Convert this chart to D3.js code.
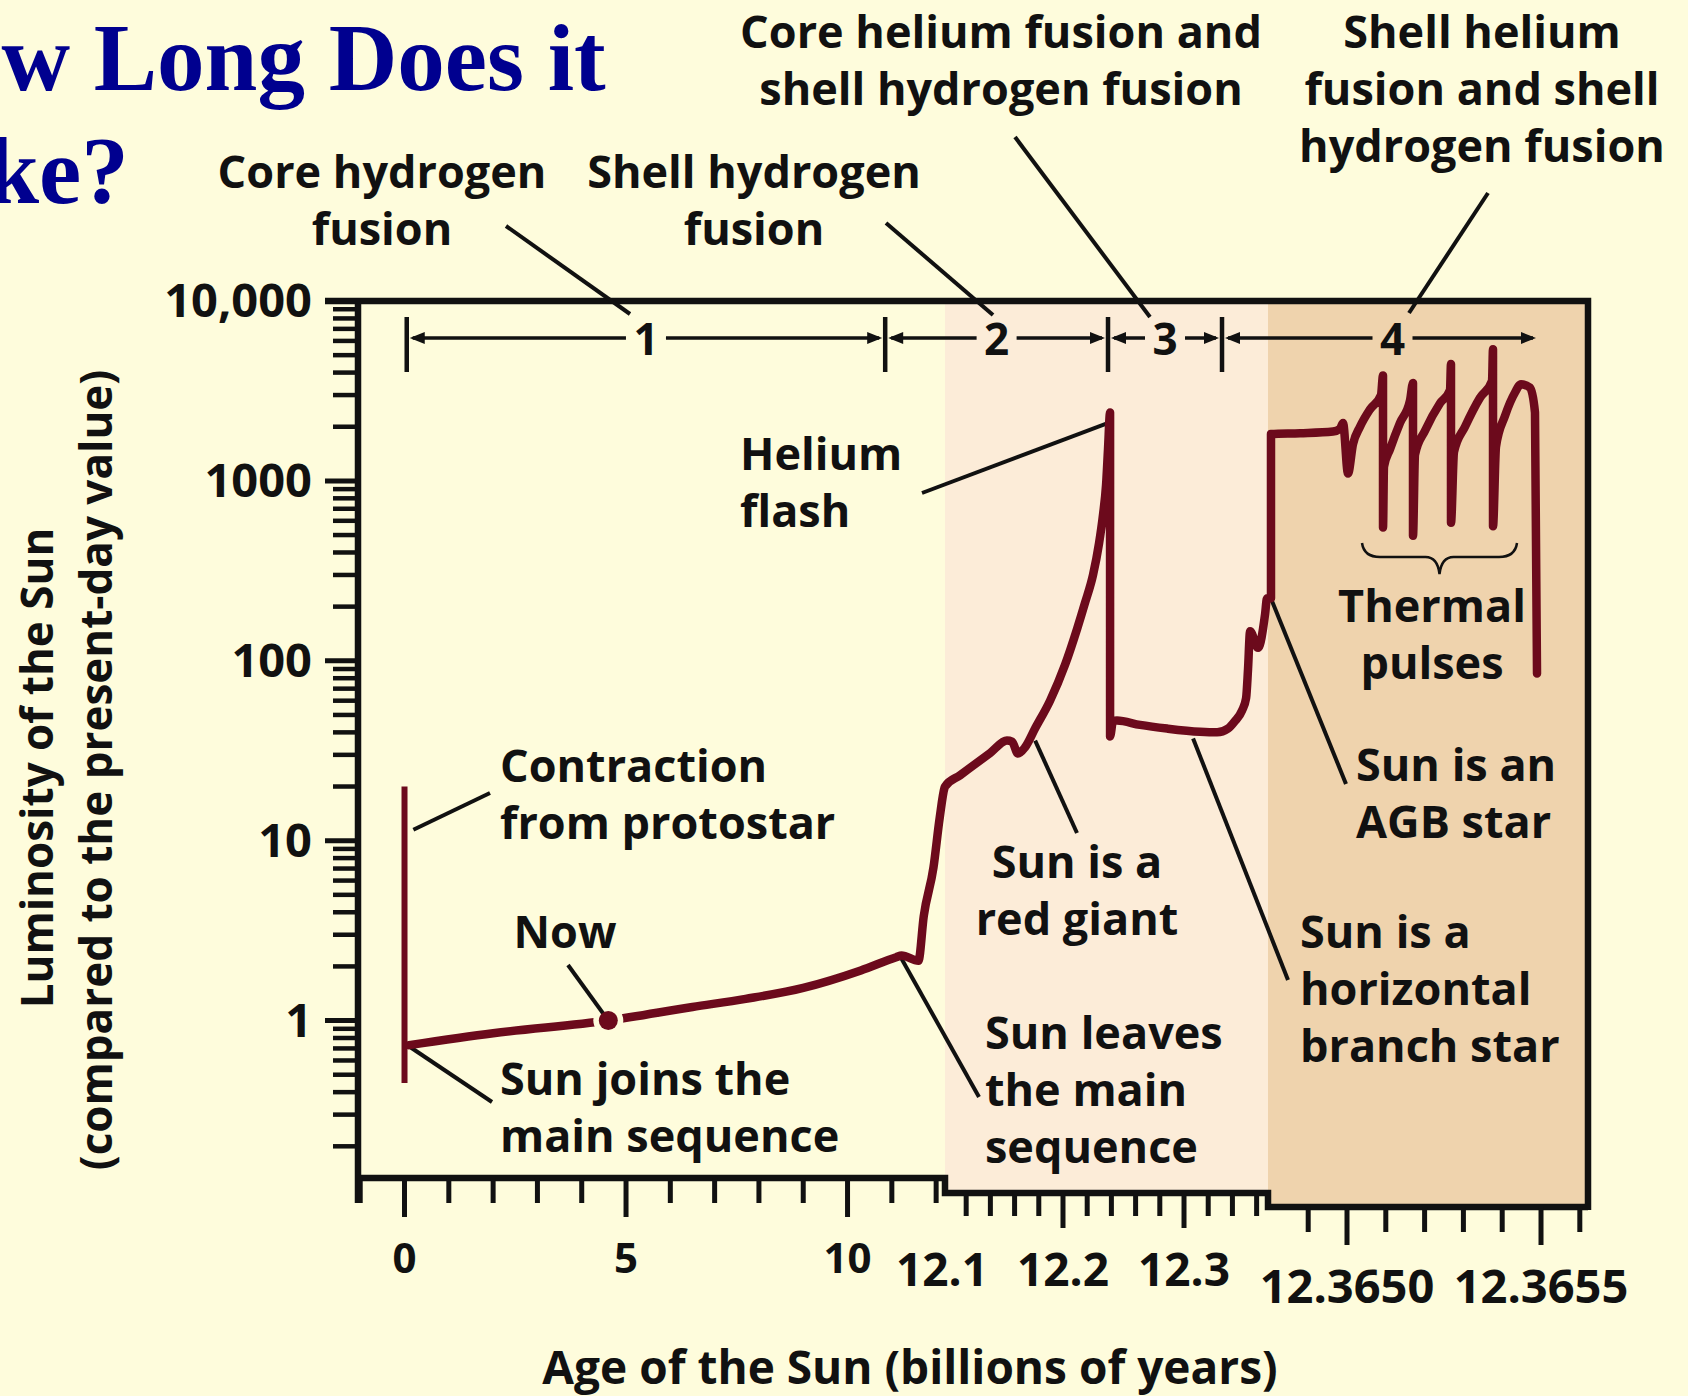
<!DOCTYPE html>
<html>
<head>
<meta charset="utf-8">
<script src="https://cdn.jsdelivr.net/npm/d3@7"></script>
<style>
  body { margin: 0; background: #fefcdc; }
  svg { display: block; }
  .lbl { font-family: 'Open Sans', sans-serif; font-weight: 700; fill: #111; }
</style>
</head>
<body>
<svg id="chart" width="1688" height="1396"></svg>
<script>

// ---------------------------------------------------------------
// DATA
// ---------------------------------------------------------------

// luminosity axis
var yTickValues = [1, 10, 100, 1000, 10000];
var yTickLabels = ['1', '10', '100', '1000', '10,000'];

// three broken age axes (billions of years)
var xTicksA = [-1, 0, 1, 2, 3, 4, 5, 6, 7, 8, 9, 10, 11, 12];
var xMajorA = [0, 5, 10];
var xLabelsA = ['0', '5', '10'];

var xTicksB = [12.12, 12.14, 12.16, 12.18, 12.2, 12.22, 12.24, 12.26, 12.28, 12.3, 12.32, 12.34, 12.36];
var xMajorB = [12.2, 12.3];
var xLabelValuesB = [12.1, 12.2, 12.3];
var xLabelsB = ['12.1', '12.2', '12.3'];

var xTicksC = [12.3649, 12.3650, 12.3651, 12.3652, 12.3653, 12.3654, 12.3655, 12.3656];
var xMajorC = [12.3650, 12.3655];
var xLabelsC = ['12.3650', '12.3655'];

// contraction from protostar
var contractionAge = [0, 0];
var contractionLum = [20, 0.45];

// panel A : main sequence and leaving it
var ageA = [0.1, 2, 4.6, 6.5, 7.7, 9, 10.3, 11.1, 11.22, 11.6, 11.72, 11.94, 12.08, 12.19];
var lumA = [0.73, 0.85, 1.0, 1.19, 1.32, 1.52, 1.9, 2.25, 2.3, 2.15, 3.8, 7.1, 13.4, 19.7];

// panel B : red giant, helium flash, horizontal branch
var ageB = [12.1025, 12.115, 12.14, 12.1537, 12.1579, 12.1628, 12.1686, 12.1769, 12.1893, 12.2017,
            12.2116, 12.2182, 12.2248, 12.2298, 12.2331, 12.2356, 12.2372, 12.2389, 12.2389, 12.2413,
            12.2446, 12.2637, 12.2860, 12.3132, 12.3273, 12.3364, 12.3419, 12.3480, 12.3513, 12.3529,
            12.3546, 12.3612, 12.3670, 12.3686];
var lumB = [20, 23.1, 30.8, 36, 35.5, 30.5, 33, 42, 60, 95,
            150, 210, 300, 450, 650, 950, 1500, 2400, 38, 46,
            46.5, 44, 42, 40.3, 40, 42, 46, 53, 62, 90,
            146, 118, 182, 223];

// panel C : AGB star and thermal pulses
var ageC = [12.3648041, 12.3648041, 12.3648789, 12.3649639, 12.3649820, 12.3649897, 12.3650026, 12.3650155,
            12.3650335, 12.3650593, 12.3650876, 12.3650928, 12.3650928, 12.3650954, 12.3651108, 12.3651366,
            12.3651624, 12.3651701, 12.3651701, 12.3651753, 12.3652010, 12.3652397, 12.3652655, 12.3652680,
            12.3652680, 12.3652758, 12.3653041, 12.3653428, 12.3653737, 12.3653763, 12.3653763, 12.3653840,
            12.3654072, 12.3654330, 12.3654485, 12.3654716, 12.3654845, 12.3654897];
var lumC = [223, 1820, 1840, 1880, 1950, 2100, 1100, 1600,
            2000, 2500, 3000, 3850, 550, 1200, 1500, 2100,
            2800, 3500, 495, 1400, 1900, 2700, 3200, 4470,
            585, 1450, 2000, 2900, 3600, 5400, 560, 1550,
            2300, 3100, 3450, 3300, 2400, 85];

// "Now"
var nowAge = 4.6;
var nowLum = 1.0;

// phases of fusion
var phasePanel = ['A', 'A', 'B', 'B', 'C'];
var phaseAge = [0.05, 10.85, 12.2372, 12.3314, 12.3654948];
var phaseLabels = ['1', '2', '3', '4'];

// thermal pulse ages (for the brace)
var pulseAges = [12.3650928, 12.3653763];

// ---------------------------------------------------------------
// SCALES
// ---------------------------------------------------------------

var svg = d3.select('#chart');
var INK = '#111';
var CURVE = '#6c0a1c';
var FONT = 45;

var plotTop = 301;
var bottomA = 1178, bottomB = 1193, bottomC = 1207;

var y = d3.scaleLog().domain([0.1333, 10000]).range([bottomA, plotTop]);
var xA = d3.scaleLinear().domain([-1.05, 12.2]).range([358, 945]);
var xB = d3.scaleLinear().domain([12.1025, 12.3694]).range([945, 1268]);
var xC = d3.scaleLinear().domain([12.3647964, 12.3656211]).range([1268, 1588]);

var xOf = { A: xA, B: xB, C: xC };

// ---------------------------------------------------------------
// PANEL BACKGROUNDS
// ---------------------------------------------------------------

svg.append('rect')
    .attr('x', xB.range()[0]).attr('y', plotTop)
    .attr('width', xB.range()[1] - xB.range()[0]).attr('height', bottomB - plotTop)
    .style('fill', '#fcecd8');

svg.append('rect')
    .attr('x', xC.range()[0]).attr('y', plotTop)
    .attr('width', xC.range()[1] - xC.range()[0]).attr('height', bottomC - plotTop)
    .style('fill', '#efd3ad');

// ---------------------------------------------------------------
// FRAME + TICKS
// ---------------------------------------------------------------

var frame = d3.path();
frame.moveTo(325, plotTop);
frame.lineTo(xC.range()[1], plotTop);
frame.lineTo(xC.range()[1], bottomC + 3);
frame.moveTo(xC.range()[1], bottomC);
frame.lineTo(xC.range()[0], bottomC);
frame.lineTo(xC.range()[0], bottomB);
frame.lineTo(xB.range()[0], bottomB);
frame.lineTo(xB.range()[0], bottomA);
frame.lineTo(xA.range()[0], bottomA);
frame.moveTo(xA.range()[0], plotTop);
frame.lineTo(xA.range()[0], 1203);

svg.append('path')
    .attr('d', frame.toString())
    .style('fill', 'none')
    .style('stroke', INK)
    .style('stroke-width', 6.5)
    .style('stroke-linejoin', 'miter');

function xTicks(scale, values, majors, y0, shortLen, longLen) {
    svg.selectAll(null)
        .data(values)
      .enter().append('line')
        .attr('x1', function (d) { return scale(d); })
        .attr('x2', function (d) { return scale(d); })
        .attr('y1', y0)
        .attr('y2', function (d) {
            var isMajor = majors.some(function (m) { return Math.abs(m - d) < 1e-9; });
            return y0 + (isMajor ? longLen : shortLen);
        })
        .style('stroke', INK)
        .style('stroke-width', 5);
}
xTicks(xA, xTicksA, xMajorA, bottomA, 25, 39);
xTicks(xB, xTicksB, xMajorB, bottomB, 23, 35);
xTicks(xC, xTicksC, xMajorC, bottomC, 25, 38);

function xLabels(scale, values, labels, baseline, size) {
    svg.selectAll(null)
        .data(values)
      .enter().append('text')
        .attr('class', 'lbl')
        .attr('x', function (d) { return scale(d); })
        .attr('y', baseline)
        .style('font-size', size + 'px')
        .style('text-anchor', 'middle')
        .text(function (d, i) { return labels[i]; });
}
xLabels(xA, xMajorA, xLabelsA, 1273, 42);
xLabels(xB, xLabelValuesB, xLabelsB, 1286, 46);
xLabels(xC, xMajorC, xLabelsC, 1303, 47);

// y ticks
var yMinor = [];
[0.1, 1, 10, 100, 1000].forEach(function (d) {
    for (var k = 2; k <= 9; k++) {
        if (k * d >= 0.15) { yMinor.push(k * d); }
    }
});

svg.selectAll(null)
    .data(yMinor)
  .enter().append('line')
    .attr('x1', 333).attr('x2', 358)
    .attr('y1', function (d) { return y(d); })
    .attr('y2', function (d) { return y(d); })
    .style('stroke', INK)
    .style('stroke-width', 4.5);

svg.selectAll(null)
    .data(yTickValues)
  .enter().append('line')
    .attr('x1', 325).attr('x2', 358)
    .attr('y1', function (d) { return y(d); })
    .attr('y2', function (d) { return y(d); })
    .style('stroke', INK)
    .style('stroke-width', 5);

svg.selectAll(null)
    .data(yTickValues)
  .enter().append('text')
    .attr('class', 'lbl')
    .attr('x', 312)
    .attr('y', function (d) { return y(d) + 16; })
    .style('font-size', '47px')
    .style('text-anchor', 'end')
    .text(function (d, i) { return yTickLabels[i]; });

// axis titles
svg.append('text')
    .attr('class', 'lbl')
    .attr('x', 910).attr('y', 1384)
    .style('font-size', '46px')
    .style('text-anchor', 'middle')
    .text('Age of the Sun (billions of years)');

svg.append('text')
    .attr('class', 'lbl')
    .attr('transform', 'translate(53,768) rotate(-90)')
    .style('font-size', '44px')
    .style('text-anchor', 'middle')
    .text('Luminosity of the Sun');

svg.append('text')
    .attr('class', 'lbl')
    .attr('transform', 'translate(112,770) rotate(-90)')
    .style('font-size', '44px')
    .style('text-anchor', 'middle')
    .text('(compared to the present-day value)');

// ---------------------------------------------------------------
// TITLE
// ---------------------------------------------------------------

var title = svg.append('text')
    .style('font-family', "'Liberation Serif', 'Times New Roman', serif")
    .style('font-weight', 700)
    .style('font-size', '95px')
    .style('fill', '#00008f');
title.append('tspan').attr('x', -120).attr('y', 90).text('How Long Does it');
title.append('tspan').attr('x', -116).attr('y', 203).text('Take?');

// ---------------------------------------------------------------
// PHASE MARKERS 1-4
// ---------------------------------------------------------------

var phaseX = phaseAge.map(function (a, i) { return xOf[phasePanel[i]](a); });
var phaseY = 338;
var labelShift = [0, 0, 0, 12];

phaseX.slice(0, 4).forEach(function (px) {
    svg.append('line')
        .attr('x1', px).attr('x2', px)
        .attr('y1', 317).attr('y2', 372)
        .style('stroke', INK).style('stroke-width', 4.5);
});

function arrowHead(tipX, dir) {
    // dir = -1 points left, +1 points right
    var p = d3.path();
    p.moveTo(tipX, phaseY);
    p.lineTo(tipX - dir * 15, phaseY - 6);
    p.lineTo(tipX - dir * 15, phaseY + 6);
    p.closePath();
    svg.append('path').attr('d', p.toString()).style('fill', INK);
}

phaseLabels.forEach(function (lab, i) {
    var x0 = phaseX[i], x1 = phaseX[i + 1];
    var mid = (x0 + x1) / 2 + labelShift[i];
    svg.append('line')
        .attr('x1', x0 + 6).attr('x2', mid - 20)
        .attr('y1', phaseY).attr('y2', phaseY)
        .style('stroke', INK).style('stroke-width', 3.5);
    svg.append('line')
        .attr('x1', mid + 20).attr('x2', x1 - 6)
        .attr('y1', phaseY).attr('y2', phaseY)
        .style('stroke', INK).style('stroke-width', 3.5);
    arrowHead(x0 + 3, -1);
    arrowHead(x1 - 3, 1);
    svg.append('text')
        .attr('class', 'lbl')
        .attr('x', mid).attr('y', phaseY + 17)
        .style('font-size', '44px')
        .style('text-anchor', 'middle')
        .text(lab);
});

// ---------------------------------------------------------------
// ANNOTATIONS
// ---------------------------------------------------------------

var annotations = [
    { lines: ['Core hydrogen', 'fusion'], x: 382, y: 188, anchor: 'middle' },
    { lines: ['Shell hydrogen', 'fusion'], x: 754, y: 188, anchor: 'middle' },
    { lines: ['Core helium fusion and', 'shell hydrogen fusion'], x: 1001, y: 48, anchor: 'middle' },
    { lines: ['Shell helium', 'fusion and shell', 'hydrogen fusion'], x: 1482, y: 48, anchor: 'middle' },
    { lines: ['Helium', 'flash'], x: 740, y: 470, anchor: 'start' },
    { lines: ['Contraction', 'from protostar'], x: 500, y: 782, anchor: 'start' },
    { lines: ['Now'], x: 565, y: 948, anchor: 'middle' },
    { lines: ['Sun joins the', 'main sequence'], x: 500, y: 1095, anchor: 'start' },
    { lines: ['Sun is a', 'red giant'], x: 1077, y: 878, anchor: 'middle' },
    { lines: ['Sun leaves', 'the main', 'sequence'], x: 985, y: 1049, anchor: 'start' },
    { lines: ['Sun is a', 'horizontal', 'branch star'], x: 1300, y: 948, anchor: 'start' },
    { lines: ['Sun is an', 'AGB star'], x: 1356, y: 781, anchor: 'start' },
    { lines: ['Thermal', 'pulses'], x: 1432, y: 622, anchor: 'middle' }
];

annotations.forEach(function (a) {
    var t = svg.append('text')
        .attr('class', 'lbl')
        .style('font-size', FONT + 'px')
        .style('text-anchor', a.anchor);
    a.lines.forEach(function (line, i) {
        t.append('tspan').attr('x', a.x).attr('y', a.y + i * 57).text(line);
    });
});

// leaders from the top labels to the phase numbers
var phaseLeaders = [
    [[506, 226], [630, 314]],
    [[886, 223], [993, 315]],
    [[1015, 137], [1150, 317]],
    [[1488, 193], [1409, 313]]
];

// leaders from text to points on the curve
var curveLeaders = [
    { from: [490, 793], panel: 'A', age: 0.2, lum: 11.5 },
    { from: [492, 1102], panel: 'A', age: 0.1, lum: 0.72 },
    { from: [979, 1097], panel: 'A', age: 11.2, lum: 2.25 },
    { from: [1077, 833], panel: 'B', age: 12.177, lum: 36 },
    { from: [922, 493], panel: 'B', age: 12.2375, lum: 2100 },
    { from: [1288, 980], panel: 'B', age: 12.3075, lum: 37 },
    { from: [1346, 784], panel: 'C', age: 12.3648067, lum: 215 }
];

var leaderG = svg.append('g')
    .style('stroke', INK)
    .style('stroke-width', 4)
    .style('stroke-linecap', 'butt');

phaseLeaders.forEach(function (l) {
    leaderG.append('line')
        .attr('x1', l[0][0]).attr('y1', l[0][1])
        .attr('x2', l[1][0]).attr('y2', l[1][1]);
});

curveLeaders.forEach(function (l) {
    leaderG.append('line')
        .attr('x1', l.from[0]).attr('y1', l.from[1])
        .attr('x2', xOf[l.panel](l.age)).attr('y2', y(l.lum));
});

// thermal pulse brace
var bx0 = xC(pulseAges[0]) - 21, bx1 = xC(pulseAges[1]) + 24;
var bmid = (bx0 + bx1) / 2, by = 543;
var brace = d3.path();
brace.moveTo(bx0, by);
brace.quadraticCurveTo(bx0 + 2, by + 14, bx0 + 18, by + 14);
brace.lineTo(bmid - 14, by + 14);
brace.quadraticCurveTo(bmid - 2, by + 14, bmid, by + 31);
brace.quadraticCurveTo(bmid + 2, by + 14, bmid + 14, by + 14);
brace.lineTo(bx1 - 18, by + 14);
brace.quadraticCurveTo(bx1 - 2, by + 14, bx1, by);
svg.append('path')
    .attr('d', brace.toString())
    .style('fill', 'none')
    .style('stroke', INK)
    .style('stroke-width', 2.5);

// ---------------------------------------------------------------
// LUMINOSITY CURVE
// ---------------------------------------------------------------

var line = d3.line().curve(d3.curveMonotoneX);

var contractionPts = contractionAge.map(function (a, i) { return [xA(a), y(contractionLum[i])]; });
svg.append('path')
    .attr('d', d3.line()(contractionPts))
    .style('fill', 'none')
    .style('stroke', CURVE)
    .style('stroke-width', 6);

var curvePts = []
    .concat(ageA.map(function (a, i) { return [xA(a), y(lumA[i])]; }))
    .concat(ageB.map(function (a, i) { return [xB(a), y(lumB[i])]; }))
    .concat(ageC.map(function (a, i) { return [xC(a), y(lumC[i])]; }));

svg.append('path')
    .attr('d', line(curvePts))
    .style('fill', 'none')
    .style('stroke', CURVE)
    .style('stroke-width', 8.5)
    .style('stroke-linejoin', 'round')
    .style('stroke-linecap', 'round');

// "Now" dot with a small gap in the line
svg.append('circle')
    .attr('cx', xA(nowAge)).attr('cy', y(nowLum))
    .attr('r', 15)
    .style('fill', '#fefcdc');
svg.append('line')
    .attr('x1', 568).attr('y1', 965)
    .attr('x2', xA(nowAge)).attr('y2', y(nowLum))
    .style('stroke', INK).style('stroke-width', 4);
svg.append('circle')
    .attr('cx', xA(nowAge)).attr('cy', y(nowLum))
    .attr('r', 9.5)
    .style('fill', CURVE);

</script>
</body>
</html>
